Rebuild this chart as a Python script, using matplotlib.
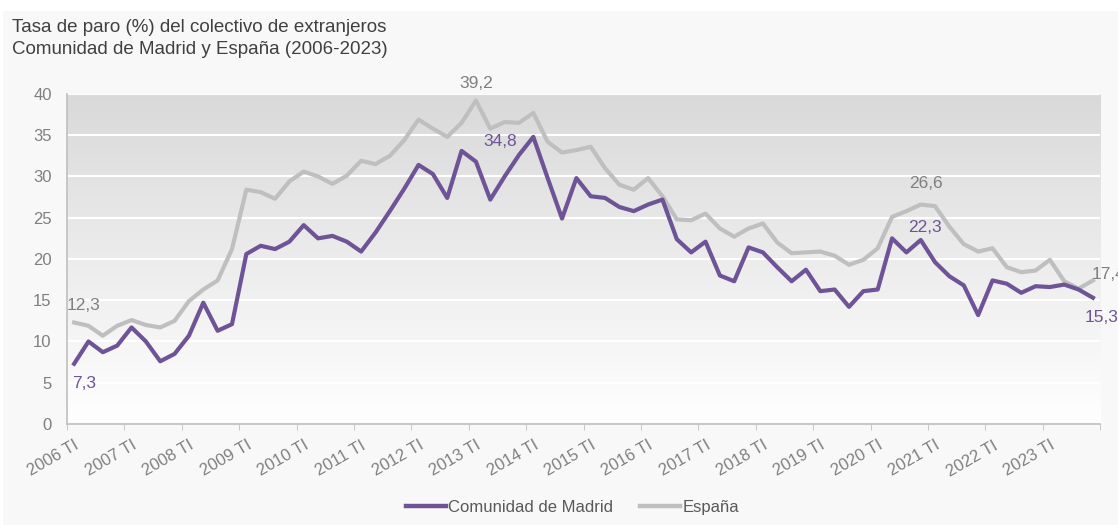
import numpy as np
import matplotlib.pyplot as plt
from matplotlib.colors import LinearSegmentedColormap
from matplotlib.patches import Rectangle

plt.rcParams['font.family'] = ['Liberation Sans', 'DejaVu Sans']

years = list(range(2006, 2024))
quarters = ['TI', 'TII', 'TIII', 'TIV']
periods = [f'{y} {q}' for y in years for q in quarters]

madrid = [7.3, 10.0, 8.7, 9.5, 11.7, 10.0, 7.6, 8.5, 10.7, 14.7, 11.3, 12.1,
          20.6, 21.6, 21.2, 22.1, 24.1, 22.5, 22.8, 22.1, 20.9, 23.2, 25.8, 28.5,
          31.4, 30.3, 27.4, 33.1, 31.8, 27.2, 30.0, 32.6, 34.8, 29.8, 24.9, 29.8,
          27.6, 27.4, 26.3, 25.8, 26.6, 27.2, 22.4, 20.8, 22.1, 18.0, 17.3, 21.4,
          20.8, 19.0, 17.3, 18.7, 16.1, 16.3, 14.2, 16.1, 16.3, 22.5, 20.8, 22.3,
          19.6, 17.9, 16.8, 13.2, 17.4, 17.0, 15.9, 16.7, 16.6, 16.9, 16.3, 15.3]

espana = [12.3, 11.9, 10.7, 11.9, 12.6, 12.0, 11.7, 12.5, 14.9, 16.3, 17.4, 21.2,
          28.4, 28.1, 27.3, 29.4, 30.6, 30.0, 29.1, 30.1, 31.9, 31.5, 32.5, 34.4,
          36.9, 35.8, 34.8, 36.5, 39.2, 35.8, 36.6, 36.5, 37.7, 34.2, 32.9, 33.2,
          33.6, 31.0, 29.0, 28.4, 29.8, 27.6, 24.8, 24.7, 25.5, 23.7, 22.7, 23.7,
          24.3, 22.0, 20.7, 20.8, 20.9, 20.4, 19.3, 19.9, 21.3, 25.1, 25.8, 26.6,
          26.4, 23.9, 21.8, 20.9, 21.3, 19.0, 18.4, 18.6, 19.9, 17.3, 16.4, 17.4]

purple = '#6e5496'
grey = '#bfbfbf'
text_grey = '#7f7f7f'

fig = plt.figure(figsize=(11.18, 5.25), dpi=100, facecolor='white')
# light grey chart area, leaving a thin white margin at top and left
fig.patches.append(Rectangle((0.003, 0), 0.997, 0.979, transform=fig.transFigure,
                             facecolor='#f8f8f8', edgecolor='none', zorder=-10))

ax = fig.add_axes([0.0599, 0.1924, 0.9241, 0.6286])
ax.set_facecolor('white')

x = np.arange(len(periods))

# vertical gradient background
cmap = LinearSegmentedColormap.from_list('bg', ['#ffffff', '#d9d9d9'])
grad = np.linspace(0, 1, 256).reshape(-1, 1)
ax.imshow(grad, extent=(-0.5, len(periods) - 0.5, 0, 40), origin='lower',
          aspect='auto', cmap=cmap, zorder=0)

ax.plot(x, espana, color=grey, lw=3.0, label='España', zorder=3)
ax.plot(x, madrid, color=purple, lw=3.0, label='Comunidad de Madrid', zorder=4)

ax.set_xlim(-0.5, len(periods) - 0.5)
ax.set_ylim(0, 40)
ax.set_yticks(range(0, 41, 5))
ax.yaxis.grid(True, color='white', lw=1.5)
for g in ax.get_ygridlines():
    g.set_zorder(1)

ax.set_xticks(x[::4])
ax.set_xticklabels(periods[::4], rotation=30, ha='right', rotation_mode='anchor')
ax.set_xticks(np.arange(-0.5, len(periods), 4), minor=True)
ax.tick_params(axis='x', which='major', length=0, pad=10, labelsize=12, labelcolor=text_grey)
ax.tick_params(axis='x', which='minor', length=4, color='#bfbfbf')
ax.tick_params(axis='y', length=0, pad=11, labelsize=12, labelcolor=text_grey)

for s in ['top', 'right']:
    ax.spines[s].set_visible(False)
ax.spines['left'].set_color('#bfbfbf')
ax.spines['bottom'].set_color('#bfbfbf')
ax.spines['left'].set_linewidth(1.2)
ax.spines['bottom'].set_linewidth(1.2)

def lab(i, vals, txt, color, dx, dy, ha='center', va='center'):
    ax.annotate(txt, (x[i], vals[i]), xytext=(dx, dy), textcoords='offset points',
                ha=ha, va=va, color=color, fontsize=12.5, zorder=6, annotation_clip=False)

lab(0, espana, '12,3', text_grey, 7, 12)
lab(0, madrid, '7,3', purple, 7, -14)
lab(28, espana, '39,2', text_grey, 0, 12)
lab(32, madrid, '34,8', purple, -24, -3)
lab(59, espana, '26,6', text_grey, 4, 15)
lab(59, madrid, '22,3', purple, 3, 9)
lab(71, espana, '17,4', text_grey, -1, 4, ha='left')
lab(71, madrid, '15,3', purple, -6, -14, ha='left')

fig.text(0.011, 0.947, 'Tasa de paro (%) del colectivo de extranjeros', fontsize=13.5, color='#404040', va='center')
fig.text(0.011, 0.905, 'Comunidad de Madrid y España (2006-2023)', fontsize=13.5, color='#404040', va='center')

handles, labels = ax.get_legend_handles_labels()
leg = fig.legend(handles[::-1], labels[::-1], loc='center', bbox_to_anchor=(0.512, 0.034), ncol=2,
                 frameon=False, fontsize=12, labelcolor='#595959', handlelength=2.4,
                 handletextpad=0.15, columnspacing=1.6)
for h in leg.get_lines():
    h.set_linewidth(3.2)

fig.savefig('out.png', dpi=100, facecolor=fig.get_facecolor())
